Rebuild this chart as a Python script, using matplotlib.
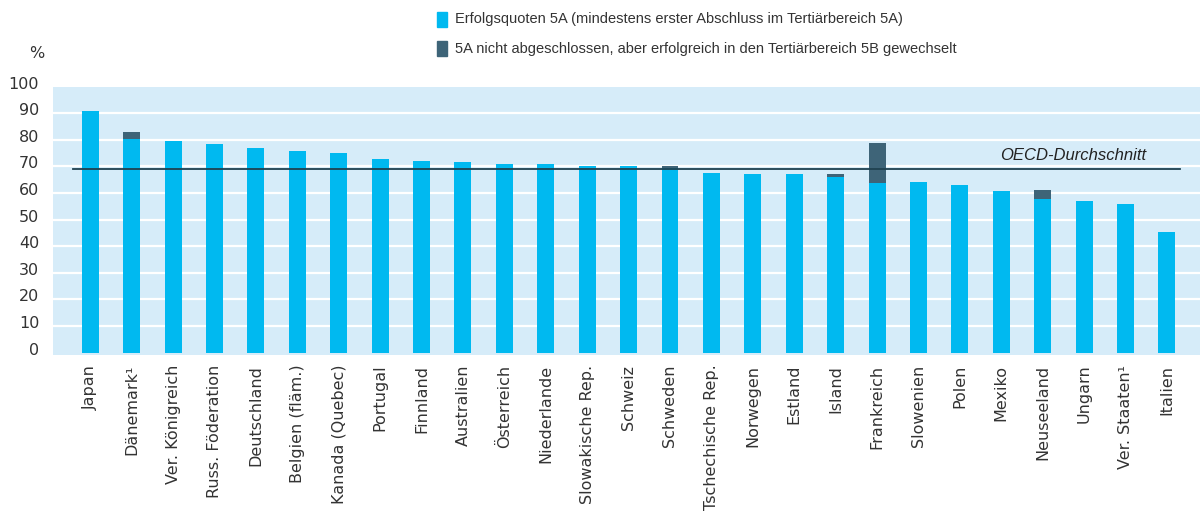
import matplotlib.pyplot as plt
import matplotlib.transforms as mtransforms
from matplotlib.patches import Rectangle
import numpy as np

# values (%)
countries = ['Japan', 'Dänemark¹', 'Ver. Königreich', 'Russ. Föderation', 'Deutschland',
             'Belgien (fläm.)', 'Kanada (Quebec)', 'Portugal', 'Finnland', 'Australien',
             'Österreich', 'Niederlande', 'Slowakische Rep.', 'Schweiz', 'Schweden',
             'Tschechische Rep.', 'Norwegen', 'Estland', 'Island', 'Frankreich',
             'Slowenien', 'Polen', 'Mexiko', 'Neuseeland', 'Ungarn', 'Ver. Staaten¹', 'Italien']
quote_5a = [90.9, 80.3, 79.6, 78.5, 77.0, 75.8, 75.1, 72.8, 72.1, 71.7,
            70.9, 70.9, 70.2, 70.2, 69.3, 67.5, 67.1, 67.1, 66.0, 63.8,
            64.2, 63.0, 60.8, 57.8, 57.0, 55.9, 45.4]
wechsel_5b = [0, 2.7, 0, 0, 0, 0, 0, 0, 0, 0,
              0, 0, 0, 0, 0.9, 0, 0, 0, 1.1, 15.1,
              0, 0, 0, 3.4, 0, 0, 0]
oecd_avg = 69.0
yticks = [0, 10, 20, 30, 40, 50, 60, 70, 80, 90, 100]

blue = '#00b9f0'
dark = '#3e6478'
bg = '#d6ecf9'
txt = '#333333'

fig = plt.figure(figsize=(12, 5.18), dpi=100)
ax = fig.add_axes([0.0442, 0.3147, 0.9558, 0.518])
ax.set_facecolor(bg)

x = np.arange(len(countries))
for v in yticks[1:-1]:
    ax.axhline(v, color='white', lw=1.6, zorder=1)

ax.bar(x, quote_5a, width=0.41, color=blue, zorder=2)
ax.bar(x, wechsel_5b, width=0.41, bottom=quote_5a, color=dark, zorder=2)

ax.plot([-0.43, 26.32], [oecd_avg, oecd_avg], color='#1f4150', lw=1.3, zorder=3)
ax.text(25.5, oecd_avg + 2.3, 'OECD-Durchschnitt', ha='right', va='bottom',
        fontsize=12, style='italic', family='Liberation Sans', color='#222222', zorder=4)

ax.set_xlim(-0.9, 26.8)
ax.set_ylim(-0.9, 100)
ax.set_yticks(yticks)
ax.set_xticks(x)
ax.set_xticklabels(countries, rotation=90, fontsize=11.5, color=txt)
ax.tick_params(axis='y', length=0, pad=10, labelsize=11.5, labelcolor=txt)
ax.tick_params(axis='x', length=0, pad=7)
offset = mtransforms.ScaledTranslation(0, 4 / 100, fig.dpi_scale_trans)
for lab in ax.get_yticklabels():
    lab.set_transform(lab.get_transform() + offset)
for s in ax.spines.values():
    s.set_visible(False)

fig.text(37 / 1200, 1 - 53 / 518, '%', ha='center', va='center', fontsize=11.5, color=txt)

# legend
W, H = 1200, 518
for y0, col, label in [(12, blue, 'Erfolgsquoten 5A (mindestens erster Abschluss im Tertiärbereich 5A)'),
                       (41, dark, '5A nicht abgeschlossen, aber erfolgreich in den Tertiärbereich 5B gewechselt')]:
    fig.patches.append(Rectangle((437 / W, 1 - (y0 + 15) / H), 10 / W, 15 / H,
                                 transform=fig.transFigure, color=col))
    fig.text(455 / W, 1 - (y0 + 7.5) / H, label, ha='left', va='center',
             fontsize=10.5, family='Liberation Sans', color=txt)

plt.savefig('out.png', dpi=100)
